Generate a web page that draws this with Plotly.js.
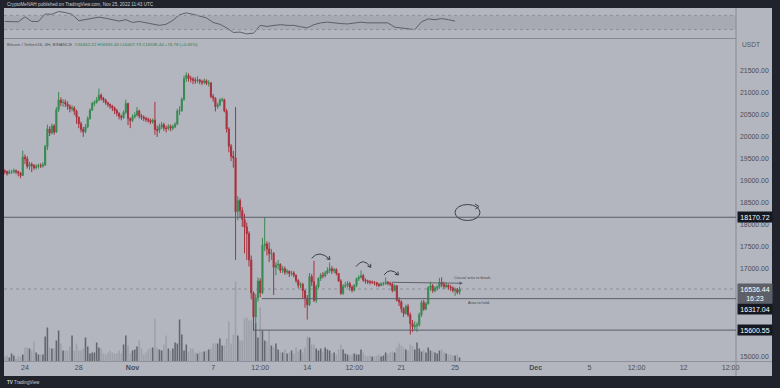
<!DOCTYPE html>
<html><head><meta charset="utf-8">
<script src="https://cdn.plot.ly/plotly-3.0.1.min.js"></script>
<style>html,body{margin:0;padding:0;background:#20232c;overflow:hidden}#chart{width:780px;height:388px}</style>
</head><body><div id="chart"></div>
<script>
// ---- DATA (BTC/USDT 4H, Binance) ----
const startTime = Date.UTC(2022, 9, 22, 12, 0); // first 4H candle: 22 Oct 2022 12:00 UTC
const firstOpen = 19230;
const closes = [19210,19170,19200,
19200,19230,19210,19180,19120,19540,
19500,19330,19380,19350,19300,19330,
19350,19340,19360,19780,20180,20090,
20250,20110,20620,20840,20780,20790,
20750,20700,20640,20660,20590,20450,
20300,20170,20120,20230,20420,20610,
20760,20790,20840,20950,20880,20840,
20780,20740,20700,20660,20600,20540,
20470,20440,20560,20760,20420,20370,
20460,20500,20590,20480,20450,20420,
20400,20380,20340,20380,20170,20150,
20230,20280,20200,20190,20240,20200,
20230,20290,20590,20600,20860,21330,
21400,21330,21320,21290,21280,21300,
21260,21240,21280,21220,21230,20920,
20880,20690,20730,20840,20850,20590,
20180,19790,19560,19520,18300,18550,
18320,18120,17950,17800,17200,16450,
15900,16330,16720,16450,17530,17560,
17450,17340,17350,17030,17080,17100,
16960,17000,16920,16940,16890,16900,
16850,16730,16620,16640,16500,16330,
16180,16820,16700,16280,16590,16780,
16850,16840,16900,16960,17000,16950,
16980,16890,16720,16440,16600,16620,
16660,16580,16510,16620,16770,16800,
16840,16740,16720,16700,16690,16690,
16680,16640,16620,16650,16660,16690,
16670,16650,16500,16610,16280,16240,
16090,15980,16140,15950,15750,15680,
15700,15720,15950,16230,16080,16200,
16570,16610,16500,16560,16580,16690,
16640,16590,16620,16580,16560,16500,
16520,16462.22,16536.44];
const highs = [19260,19230,19250,19250,19280,19260,19230,19200,19690,19600,
19560,19430,19420,19380,19380,19390,19400,19420,19820,20280,
20240,20300,20290,20680,21020,20900,20860,20850,20810,20740,
20720,20700,20620,20460,20350,20230,20290,20470,20650,20800,
20830,20910,21100,20990,20910,20870,20800,20760,20730,20690,
20640,20560,20510,20600,20850,20780,20440,20510,20560,20680,
20620,20520,20490,20460,20440,20420,20420,20800,20260,20300,
20340,20320,20260,20290,20280,20280,20330,20640,20700,20900,
21400,21470,21450,21390,21360,21350,21380,21320,21300,21330,
21310,21290,21250,20980,20900,20780,20880,20900,20870,20640,
20220,19840,19680,20680,18650,18600,18400,18250,18050,17850,
17300,16480,16420,16800,16780,17700,18170,17620,17600,17450,
17380,17150,17200,17120,17060,17050,16990,16960,16950,16940,
16870,16760,16690,16680,16520,16400,16900,16880,17180,16640,
16800,16900,16920,16950,17030,17140,17060,17020,17010,16900,
16760,16650,16700,16720,16700,16620,16650,16800,16850,16960,
16880,16780,16750,16740,16730,16720,16700,16680,16690,16700,
16800,16720,16700,16670,16640,16620,16350,16280,16120,16180,
16200,16000,15830,15800,15780,16000,16280,16290,16250,16600,
16700,16650,16600,16620,16790,16800,16700,16680,16650,16630,
16600,16570,16560,16591.40];
const lows = [19150,19120,19150,19160,19170,19150,19100,19060,19110,19380,
19280,19250,19200,19250,19260,19280,19290,19300,19340,19700,
20020,20060,20050,20090,20570,20700,20690,20680,20620,20560,
20580,20500,20300,20200,20100,20000,20080,20200,20390,20590,
20700,20760,20820,20830,20780,20730,20680,20640,20590,20520,
20470,20400,20380,20410,20520,20270,20200,20340,20420,20460,
20420,20390,20360,20340,20320,20290,20300,20050,20000,20090,
20180,20140,20100,20150,20130,20150,20200,20270,20500,20570,
20820,21250,21260,21240,21200,21210,21230,21200,21180,21200,
21180,21150,20880,20800,20580,20640,20700,20800,20560,20100,
19650,19450,19300,17200,18100,18150,17950,17350,17200,17050,
16300,15600,15720,16250,16350,16420,17400,17300,17150,17200,
16400,16850,16980,16900,16900,16860,16870,16810,16840,16800,
16680,16550,16560,16320,16110,15840,16150,16600,16240,16220,
16550,16720,16780,16800,16870,16900,16880,16900,16850,16700,
16400,16400,16560,16570,16500,16460,16480,16580,16720,16780,
16700,16660,16650,16640,16650,16620,16590,16580,16600,16610,
16630,16620,16600,16460,16480,16250,16150,16000,15900,15950,
15900,15500,15560,15600,15560,15680,15900,16040,16050,16180,
16500,16450,16460,16500,16540,16580,16540,16550,16520,16490,
16460,16380,16420,16407.73];
const volumes = [10,12,8,16,12,6,10,10,14,28,
28,26,22,40,18,14,14,14,50,68,
28,26,26,42,62,36,22,22,22,30,
52,22,36,22,22,26,48,30,16,18,
18,38,28,26,16,14,18,22,18,16,
16,22,16,34,52,32,16,22,24,30,
42,26,14,18,24,26,28,86,28,24,
22,34,52,26,22,26,38,36,84,54,
22,34,20,26,26,18,16,20,18,20,
22,24,26,36,36,36,46,32,32,46,
80,36,54,160,52,42,42,86,88,82,
82,88,76,48,108,62,42,40,62,32,
28,36,24,20,18,24,16,18,22,16,
28,20,24,18,28,50,48,34,34,26,
22,26,20,28,24,22,16,18,14,24,
34,24,16,14,12,14,16,14,14,24,
18,12,10,12,10,10,12,14,10,12,
18,14,18,20,18,28,36,32,28,24,
22,34,30,24,38,26,20,24,18,28,
22,20,18,16,22,24,18,16,14,14,
12,12,14,8]; // thousand BTC
const rsiStep = 3; // RSI read every 3rd candle
const rsiValues = [53,53,52,66,53,53,74,73,81,78,
73,55,58,62,65,62,58,54,58,50,
53,50,47,42,45,56,72,77,73,68,
63,50,45,35,22,23,18,20,42,39,
42,44,42,42,38,35,44,49,51,48,
47,46,48,51,49,49,50,49,37,34,
31,30,52,60,58,61,58,54];
const tickDates = ['2022-10-24','2022-10-28','2022-11-01','2022-11-07','2022-11-10 12:00','2022-11-14','2022-11-17 12:00','2022-11-21','2022-11-25','2022-12-01','2022-12-05','2022-12-08 12:00','2022-12-12','2022-12-15 12:00'];
const tickLabels = ['24','28','<b>Nov</b>','7','12:00','14','12:00','21','25','<b>Dec</b>','5','12:00','12','12:00'];
// price-scale labels visible in the reference (15500/16000/16500 are hidden under the price tags)
const priceTicks = [15000,17000,17500,18000,18500,19000,19500,20000,20500,21000,21500];
const levelTop = 18170.72, levelHold = 16317.04, levelLow = 15600.55;
const lastPrice = 16536.44, countdown = '16:23';
const legendText = 'O16462.22 H16591.40 L16407.73 C16536.44 +74.78 (+0.45%)';

// ---- build ----
const H4 = 4*3600*1000;
const fmt = ms => new Date(ms).toISOString().slice(0,16).replace('T',' ');
const times = closes.map((_, i) => fmt(startTime + i*H4));
const opens = closes.map((c, i) => i === 0 ? firstOpen : closes[i-1]);
const volColors = closes.map((c, i) => c >= opens[i] ? '#63666e' : '#9da0a8');
const rsiTimes = rsiValues.map((_, k) => times[k*rsiStep]);

// pixel -> paper helpers for hand-drawn annotations
const X = px => (px - 4) / 768, Y = py => (376 - py) / 368;
const RIGHT = X(736);

function arcShape(p0, peak, p1) {
  const c = [2*peak[0] - (p0[0]+p1[0])/2, 2*peak[1] - (p0[1]+p1[1])/2];
  let dx = p1[0]-c[0], dy = p1[1]-c[1]; const L = Math.hypot(dx,dy); dx/=L; dy/=L;
  const w = (ang) => { const a = ang*Math.PI/180; const bx=-dx, by=-dy;
    return [p1[0] + 3.5*(bx*Math.cos(a)-by*Math.sin(a)), p1[1] + 3.5*(bx*Math.sin(a)+by*Math.cos(a))]; };
  const w1 = w(35), w2 = w(-35);
  const P = p => X(p[0]).toFixed(5)+','+Y(p[1]).toFixed(5);
  return {type:'path', xref:'paper', yref:'paper', line:{color:'#3d4048', width:1},
    path:`M${P(p0)} Q${P(c)} ${P(p1)} M${P(w1)} L${P(p1)} L${P(w2)}`};
}
const arcs = [
  [[311.7,258.3],[320,254],[330,259.5]],
  [[356,266.7],[363.3,261.7],[370.7,267.3]],
  [[384,275],[390.7,270.7],[398.3,275]]
];

const shapes = [
  {type:'rect', xref:'paper', yref:'paper', x0:0, x1:1, y0:0, y1:1, fillcolor:'#b3b6be', line:{width:0}, layer:'below'},
  {type:'rect', xref:'paper', yref:'y3', x0:0, x1:RIGHT, y0:30, y1:70, fillcolor:'#a7aab2', line:{width:0}, layer:'below'},
  {type:'line', xref:'paper', yref:'y3', x0:0, x1:RIGHT, y0:70, y1:70, line:{color:'#8e919a', width:1, dash:'dot'}},
  {type:'line', xref:'paper', yref:'y3', x0:0, x1:RIGHT, y0:30, y1:30, line:{color:'#8e919a', width:1, dash:'dot'}},
  {type:'line', xref:'paper', yref:'paper', x0:RIGHT, x1:RIGHT, y0:0, y1:1, line:{color:'#878a93', width:1}},
  {type:'line', xref:'paper', yref:'paper', x0:0, x1:RIGHT, y0:Y(38.5), y1:Y(38.5), line:{color:'#878a93', width:1}},
  {type:'line', xref:'paper', yref:'paper', x0:0, x1:1, y0:Y(361.5), y1:Y(361.5), line:{color:'#8f929a', width:1}},
  {type:'line', xref:'paper', yref:'y2', x0:0, x1:RIGHT, y0:levelTop, y1:levelTop, line:{color:'#5b5e66', width:1}},
  {type:'line', xref:'paper', yref:'y2', x0:0, x1:RIGHT, y0:lastPrice, y1:lastPrice, line:{color:'rgba(95,98,106,0.45)', width:1, dash:'dot'}},
  {type:'line', xref:'x', yref:'y2', x0:'2022-11-10 15:00', x1:'2022-12-15 21:36', y0:levelHold, y1:levelHold, line:{color:'#5b5e66', width:1}},
  {type:'line', xref:'x', yref:'y2', x0:'2022-11-09 23:00', x1:'2022-12-15 21:36', y0:levelLow, y1:levelLow, line:{color:'#5b5e66', width:1}},
  {type:'circle', xref:'paper', yref:'paper', x0:X(455), x1:X(480), y0:Y(220.5), y1:Y(204.5), line:{color:'#3d4048', width:1}},
  {type:'path', xref:'paper', yref:'paper', line:{color:'#3d4048', width:1},
    path:`M${X(475)},${Y(204)} L${X(479)},${Y(206.5)} L${X(475.5)},${Y(209)}`}
].concat(arcs.map(a => arcShape(a[0], a[1], a[2])));

const F = 'Liberation Sans, Arial, sans-serif';
const boxAnn = (text, price, bg, yshift, anchor) => ({
  xref:'paper', yref:'y2', x:X(737), y:price, xanchor:'left', yanchor:anchor||'middle', yshift:yshift||0,
  text:text, showarrow:false, bgcolor:bg, borderpad:1.5, width:31, align:'center',
  font:{family:F, size:7, color:'#ffffff'}
});

const annotations = [
  {xref:'paper', yref:'paper', x:X(5), y:Y(4.5), xanchor:'left', yanchor:'middle', showarrow:false,
   text:'CryptoMeNAH published on TradingView.com, Nov 25, 2022 11:43 UTC', font:{family:F, size:4.6, color:'#c8cbd3'}},
  {xref:'paper', yref:'paper', x:X(5), y:Y(44), xanchor:'left', yanchor:'middle', showarrow:false,
   text:'Bitcoin / TetherUS, 4H, BINANCE  <span style="color:#2f7a4c">'+legendText+'</span>', font:{family:F, size:4.4, color:'#4e515a'}},
  {xref:'paper', yref:'paper', x:X(740), y:Y(45), xanchor:'left', yanchor:'middle', showarrow:false,
   text:'USDT', font:{family:F, size:6.6, color:'#55585f'}},
  {xref:'paper', yref:'paper', x:X(452), y:Y(277), xanchor:'left', yanchor:'middle', showarrow:false,
   text:'Crucial area to break.', font:{family:F, size:3.9, color:'#44474f'}},
  {xref:'paper', yref:'paper', x:X(466), y:Y(302), xanchor:'left', yanchor:'middle', showarrow:false,
   text:'Area to hold.', font:{family:F, size:3.9, color:'#44474f'}},
  {xref:'paper', yref:'paper', x:X(5), y:Y(382.5), xanchor:'left', yanchor:'middle', showarrow:false,
   text:'<b>TV</b> TradingView', font:{family:F, size:4.6, color:'#c8cbd3'}},
  {xref:'x', yref:'y2', axref:'x', ayref:'y2', x:'2022-11-25 14:00', y:16668, ax:'2022-11-20 04:00', ay:16690,
   text:'', showarrow:true, arrowhead:2, arrowsize:0.7, arrowwidth:1, arrowcolor:'#5f626a'},
  boxAnn(levelTop.toFixed(2), levelTop, '#151821'),
  boxAnn(lastPrice.toFixed(2)+'<br>'+countdown, lastPrice, '#5d6069', 6, 'top'),
  boxAnn(levelHold.toFixed(2), levelHold, '#151821', -10.5),
  boxAnn(levelLow.toFixed(2), levelLow, '#151821')
];

const traces = [
  {type:'bar', x:times, y:volumes, xaxis:'x', yaxis:'y', marker:{color:volColors, line:{width:0}}, hoverinfo:'skip'},
  {type:'candlestick', x:times, open:opens, high:highs, low:lows, close:closes, xaxis:'x', yaxis:'y2',
   increasing:{line:{color:'#398a52', width:1}, fillcolor:'#398a52'},
   decreasing:{line:{color:'#a8323f', width:1}, fillcolor:'#a8323f'},
   whiskerwidth:0, hoverinfo:'skip'},
  {type:'scatter', mode:'lines', x:rsiTimes, y:rsiValues, xaxis:'x', yaxis:'y3',
   line:{color:'#5d6068', width:1}, hoverinfo:'skip'}
];

const layout = {
  width:780, height:388, margin:{l:4, r:8, t:8, b:12},
  paper_bgcolor:'#20232c', plot_bgcolor:'rgba(0,0,0,0)',
  font:{family:F, color:'#4a4d56'},
  showlegend:false, bargap:0.3,
  xaxis:{type:'date', domain:[0, RIGHT], anchor:'y', range:['2022-10-22 10:30','2022-12-15 21:36'],
    tickvals:tickDates, ticktext:tickLabels, tickfont:{family:F, size:7.1, color:'#4a4d56'},
    showgrid:false, zeroline:false, showline:false, ticks:'', rangeslider:{visible:false}, fixedrange:true},
  yaxis:{domain:[Y(361.5), Y(39)], range:[0, 644], visible:false, fixedrange:true},
  yaxis2:{overlaying:'y', side:'right', anchor:'x', range:[14886, 22230], tickvals:priceTicks, tickformat:'.2f',
    tickfont:{family:F, size:6.9, color:'#4a4d56'}, showgrid:false, zeroline:false, showline:false, ticks:'',
    ticklabelstandoff:3, fixedrange:true},
  yaxis3:{domain:[Y(38.5), Y(9)], anchor:'x', range:[5, 88], visible:false, fixedrange:true},
  shapes:shapes, annotations:annotations
};

Plotly.newPlot('chart', traces, layout, {displayModeBar:false, staticPlot:true});
</script>
</body></html>
